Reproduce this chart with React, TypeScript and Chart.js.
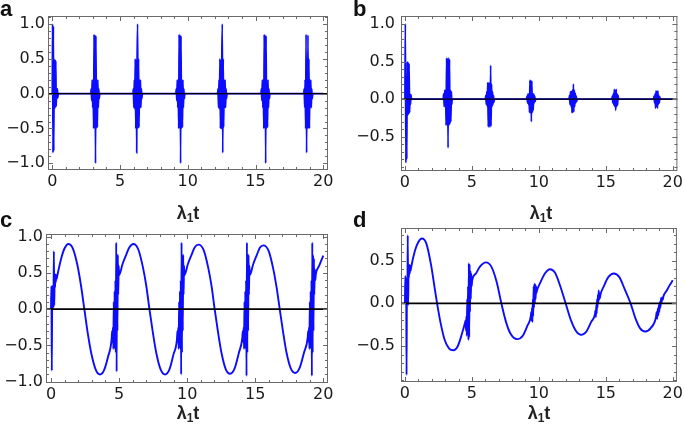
import React, { useEffect, useRef } from "react";
import { Chart, registerables } from "chart.js";

Chart.register(...registerables);

type P = [number, number];

// ---------- shared tick labels ----------
const xTickValues = [0, 5, 10, 15, 20];
const aYTicks = [-1, -0.5, 0, 0.5, 1];
const bYTicks = [-0.5, 0, 0.5, 1];
const cYTicks = [-1, -0.5, 0, 0.5, 1];
const dYTicks = [-0.5, 0, 0.5];

// ---------- panel a: revival bursts ----------
const aB0: P[] = [[0,0],[0.02,1.0],[0.05,-0.85],[0.08,0.97],[0.11,-0.82],[0.14,0.5],[0.17,-0.22],[0.2,0.49],[0.23,-0.2],[0.26,0.47],[0.29,-0.18],[0.32,0.07],[0.35,-0.07],[0.38,0.07],[0.41,-0.06],[0.44,0]];
const aB1: P[] = [[2.84,0],[2.87,0.07],[2.91,-0.1],[2.94,0.2],[2.98,-0.2],[3.01,0.2],[3.05,-0.5],[3.08,0.85],[3.12,-0.5],[3.15,0.84],[3.19,-1.0],[3.22,0.83],[3.26,-0.5],[3.29,0.2],[3.33,-0.48],[3.36,0.2],[3.4,-0.2],[3.43,0.07],[3.47,-0.07],[3.5,0]];
const aB2: P[] = [[5.95,0],[5.98,0.07],[6.02,-0.2],[6.05,0.2],[6.09,-0.22],[6.12,0.5],[6.16,-0.5],[6.19,0.48],[6.23,-0.85],[6.26,0.5],[6.3,1.0],[6.33,-0.5],[6.37,0.5],[6.4,-0.48],[6.44,0.2],[6.47,-0.2],[6.51,0.2],[6.54,-0.2],[6.58,0.07],[6.61,-0.07],[6.65,0]];
const aB3: P[] = [[9.12,0],[9.15,0.07],[9.19,-0.1],[9.22,0.2],[9.26,-0.2],[9.29,0.2],[9.33,-0.5],[9.36,0.85],[9.4,-0.5],[9.43,0.84],[9.47,-1.0],[9.5,0.83],[9.54,-0.5],[9.57,0.2],[9.61,-0.48],[9.64,0.2],[9.68,-0.2],[9.71,0.07],[9.75,-0.07],[9.78,0]];
const aB4: P[] = [[12.2,0],[12.23,0.07],[12.27,-0.2],[12.3,0.2],[12.34,-0.22],[12.37,0.5],[12.41,-0.5],[12.44,0.48],[12.48,-0.5],[12.51,0.5],[12.55,1.0],[12.58,-0.85],[12.62,0.5],[12.65,-0.48],[12.69,0.2],[12.72,-0.2],[12.76,0.2],[12.79,-0.2],[12.83,0.07],[12.86,-0.07],[12.9,0]];
const aB5: P[] = [[15.4,0],[15.43,0.07],[15.47,-0.1],[15.5,0.2],[15.54,-0.2],[15.57,0.2],[15.61,-0.5],[15.64,0.85],[15.68,-0.5],[15.71,0.84],[15.75,-1.0],[15.78,0.83],[15.82,-0.5],[15.85,0.2],[15.89,-0.48],[15.92,0.2],[15.96,-0.2],[15.99,0.07],[16.03,-0.07],[16.06,0]];
const aB6: P[] = [[18.56,0],[18.59,0.07],[18.63,-0.2],[18.66,0.2],[18.7,-0.5],[18.73,0.85],[18.77,-0.85],[18.8,0.5],[18.84,-0.5],[18.87,0.84],[18.91,-0.5],[18.94,0.5],[18.98,-0.5],[19.01,0.2],[19.05,-0.2],[19.08,0.2],[19.12,-0.2],[19.15,0.07],[19.19,-0.07],[19.22,0]];
const aEnd: P[] = [[20,0]];

// ---------- panel b: decaying bursts ----------
const bB0: P[] = [[0,0],[0.03,1.0],[0.07,-0.85],[0.1,0.3],[0.14,-0.8],[0.17,0.5],[0.21,-0.22],[0.24,0.49],[0.28,-0.2],[0.31,0.47],[0.35,-0.18],[0.38,0.07],[0.42,-0.07],[0.45,0.06],[0.49,0]];
const bB1: P[] = [[2.86,0],[2.89,0.07],[2.93,-0.1],[2.97,0.12],[3.0,-0.1],[3.04,0.12],[3.07,-0.35],[3.11,0.55],[3.15,-0.35],[3.18,0.54],[3.22,-0.65],[3.25,0.55],[3.29,-0.35],[3.33,0.53],[3.36,-0.33],[3.4,0.12],[3.43,-0.3],[3.47,0.1],[3.5,-0.07],[3.53,0]];
const bB2: P[] = [[6.0,0],[6.04,0.05],[6.07,-0.07],[6.11,0.1],[6.15,-0.1],[6.18,0.22],[6.22,-0.37],[6.25,0.22],[6.29,-0.37],[6.33,0.22],[6.36,-0.37],[6.4,0.45],[6.43,-0.36],[6.47,0.2],[6.51,-0.1],[6.54,0.1],[6.58,-0.07],[6.61,0.05],[6.65,-0.04],[6.68,0]];
const bB3: P[] = [[9.08,0],[9.12,0.04],[9.15,-0.05],[9.19,0.07],[9.22,-0.07],[9.26,0.07],[9.3,-0.18],[9.33,0.25],[9.37,-0.18],[9.4,0.25],[9.44,-0.3],[9.48,0.24],[9.51,-0.18],[9.55,0.07],[9.58,-0.15],[9.62,0.07],[9.66,-0.05],[9.69,0.04],[9.73,-0.03],[9.76,0]];
const bB4: P[] = [[12.25,0],[12.29,0.05],[12.32,-0.07],[12.36,0.1],[12.4,-0.1],[12.43,0.1],[12.47,-0.18],[12.5,0.12],[12.54,-0.18],[12.58,0.2],[12.61,-0.17],[12.65,0.12],[12.68,-0.1],[12.72,0.08],[12.76,-0.05],[12.79,0.04],[12.83,-0.03],[12.86,0]];
const bB5: P[] = [[15.45,0],[15.49,0.04],[15.52,-0.05],[15.56,0.07],[15.6,-0.08],[15.63,0.13],[15.67,-0.1],[15.7,0.12],[15.74,-0.15],[15.78,0.13],[15.81,-0.1],[15.85,0.07],[15.88,-0.08],[15.92,0.05],[15.95,0]];
const bB6: P[] = [[18.57,0],[18.6,0.04],[18.64,-0.05],[18.68,0.07],[18.71,-0.12],[18.75,0.11],[18.78,-0.1],[18.82,0.1],[18.86,-0.12],[18.89,0.11],[18.93,-0.07],[18.96,0.05],[19.0,-0.05],[19.03,0.03],[19.06,0]];
const bEnd: P[] = [[20,0]];

// ---------- panel c: oscillation with bursts ----------
const cB0: P[] = [[0,0],[0.03,0.32],[0.06,-0.85],[0.09,0.32],[0.12,0.0],[0.15,0.3],[0.18,0.02],[0.21,0.8],[0.24,0.05],[0.27,0.45],[0.3,0.3],[0.33,0.48],[0.36,0.38],[0.39,0.47],[0.42,0.42],[0.45,0.45]];
const cS0: P[] = [[0.45,0.45],[0.75,0.7],[1.0,0.84],[1.27,0.9],[1.6,0.84],[1.95,0.6],[2.2,0.33],[2.45,0],[2.7,-0.33],[2.95,-0.6],[3.3,-0.84],[3.6,-0.9],[3.9,-0.84],[4.2,-0.65],[4.45,-0.42]];
const cB1: P[] = [[4.45,-0.42],[4.49,-0.3],[4.52,-0.45],[4.55,-0.25],[4.58,-0.55],[4.61,0.1],[4.64,-0.5],[4.67,0.25],[4.7,-0.55],[4.73,0.4],[4.76,-0.6],[4.79,0.92],[4.82,-0.86],[4.85,0.75],[4.88,-0.3],[4.91,0.75],[4.94,0.2],[4.97,0.6],[5.0,0.47]];
const cS1: P[] = [[5.0,0.47],[5.25,0.62],[5.5,0.74],[5.75,0.85],[6.05,0.9],[6.4,0.83],[6.75,0.58],[7.0,0.32],[7.23,0],[7.48,-0.32],[7.73,-0.6],[8.05,-0.83],[8.38,-0.9],[8.7,-0.83],[9.0,-0.62],[9.25,-0.42]];
const cB2: P[] = [[9.25,-0.42],[9.29,-0.3],[9.32,-0.45],[9.35,-0.25],[9.38,-0.55],[9.41,0.1],[9.44,-0.5],[9.47,0.25],[9.5,-0.55],[9.53,0.4],[9.56,-0.9],[9.59,0.92],[9.62,-0.6],[9.65,0.75],[9.68,-0.3],[9.71,0.75],[9.74,0.2],[9.77,0.6],[9.8,0.47]];
const cS2: P[] = [[9.8,0.47],[10.05,0.62],[10.3,0.74],[10.55,0.85],[10.83,0.89],[11.2,0.82],[11.55,0.57],[11.8,0.31],[12.02,0],[12.27,-0.32],[12.52,-0.6],[12.84,-0.83],[13.16,-0.89],[13.48,-0.82],[13.8,-0.6],[14.05,-0.4]];
const cB3: P[] = [[14.05,-0.4],[14.09,-0.3],[14.12,-0.45],[14.15,-0.25],[14.18,-0.55],[14.21,0.1],[14.24,-0.5],[14.27,0.25],[14.3,-0.55],[14.33,0.4],[14.36,-0.92],[14.39,0.92],[14.42,-0.6],[14.45,0.75],[14.48,-0.3],[14.51,0.75],[14.54,0.2],[14.57,0.6],[14.6,0.47]];
const cS3: P[] = [[14.6,0.47],[14.85,0.62],[15.1,0.74],[15.35,0.85],[15.6,0.88],[15.97,0.81],[16.32,0.56],[16.57,0.3],[16.8,0],[17.05,-0.32],[17.3,-0.6],[17.62,-0.82],[17.94,-0.88],[18.26,-0.81],[18.58,-0.6],[18.85,-0.4]];
const cB4: P[] = [[18.85,-0.4],[18.89,-0.3],[18.92,-0.45],[18.95,-0.25],[18.98,-0.55],[19.01,0.1],[19.04,-0.5],[19.07,0.25],[19.1,-0.55],[19.13,0.4],[19.16,-0.92],[19.19,0.92],[19.22,-0.6],[19.25,0.75],[19.28,-0.3],[19.31,0.7],[19.34,0.2],[19.37,0.55],[19.41,0.4],[19.45,0.48]];
const cS4: P[] = [[19.45,0.48],[19.7,0.6],[20.0,0.74]];

// ---------- panel d: damped oscillation with bursts ----------
const dB0: P[] = [[0,0],[0.03,0.32],[0.06,0.0],[0.09,0.3],[0.12,-0.84],[0.15,0.3],[0.18,0.0],[0.21,0.8],[0.24,-0.02],[0.27,0.42],[0.3,0.3],[0.33,0.45],[0.36,0.35],[0.39,0.44],[0.42,0.38],[0.46,0.42]];
const dS0: P[] = [[0.46,0.42],[0.75,0.62],[1.0,0.72],[1.27,0.76],[1.6,0.7],[1.95,0.45],[2.2,0.2],[2.4,0],[2.65,-0.22],[2.95,-0.42],[3.3,-0.53],[3.62,-0.55],[3.95,-0.5],[4.25,-0.36],[4.5,-0.22]];
const dB1: P[] = [[4.5,-0.25],[4.53,-0.2],[4.56,-0.32],[4.59,-0.15],[4.62,-0.38],[4.65,0.05],[4.68,-0.3],[4.71,0.2],[4.74,-0.43],[4.77,0.47],[4.8,-0.4],[4.83,0.46],[4.86,-0.1],[4.89,0.38],[4.92,0.05],[4.95,0.35],[4.98,0.2],[5.02,0.27]];
const dS1: P[] = [[5.02,0.27],[5.3,0.35],[5.6,0.43],[6.05,0.48],[6.45,0.43],[6.85,0.25],[7.2,0],[7.55,-0.22],[7.9,-0.36],[8.38,-0.42],[8.8,-0.38],[9.15,-0.26],[9.4,-0.15]];
const dB2: P[] = [[9.4,-0.15],[9.43,-0.1],[9.46,-0.2],[9.49,-0.05],[9.52,-0.22],[9.55,0.05],[9.58,-0.15],[9.61,0.2],[9.64,-0.05],[9.67,0.23],[9.7,0.0],[9.73,0.22],[9.76,0.05],[9.79,0.2],[9.82,0.12],[9.86,0.15]];
const dS2: P[] = [[9.86,0.15],[10.1,0.24],[10.45,0.35],[10.83,0.4],[11.2,0.36],[11.6,0.2],[12.0,0],[12.4,-0.2],[12.8,-0.33],[13.16,-0.37],[13.55,-0.33],[13.9,-0.22],[14.2,-0.12]];
const dB3: P[] = [[14.2,-0.12],[14.23,-0.08],[14.26,-0.16],[14.29,-0.02],[14.32,-0.12],[14.35,0.05],[14.38,-0.05],[14.41,0.1],[14.44,0.0],[14.47,0.15],[14.5,0.04],[14.53,0.12],[14.56,0.06],[14.6,0.1]];
const dS3: P[] = [[14.6,0.1],[14.85,0.2],[15.2,0.31],[15.6,0.35],[16.0,0.31],[16.4,0.17],[16.85,0],[17.2,-0.17],[17.55,-0.29],[17.94,-0.33],[18.35,-0.29],[18.75,-0.16]];
const dB4: P[] = [[18.75,-0.16],[18.8,-0.1],[18.84,-0.18],[18.88,-0.06],[18.92,-0.14],[18.96,-0.02],[19.0,-0.1],[19.04,0.02],[19.08,-0.05],[19.12,0.06],[19.16,0.0],[19.2,0.07],[19.25,0.04],[19.3,0.08]];
const dS4: P[] = [[19.3,0.08],[19.55,0.15],[19.8,0.22],[20.0,0.27]];

const aSeries: P[] = [...aB0, ...aB1, ...aB2, ...aB3, ...aB4, ...aB5, ...aB6, ...aEnd];
const bSeries: P[] = [...bB0, ...bB1, ...bB2, ...bB3, ...bB4, ...bB5, ...bB6, ...bEnd];
const cSeries: P[] = [...cB0, ...cS0, ...cB1, ...cS1, ...cB2, ...cS2, ...cB3, ...cS3, ...cB4, ...cS4];
const dSeries: P[] = [...dB0, ...dS0, ...dB1, ...dS1, ...dB2, ...dS2, ...dB3, ...dS3, ...dB4, ...dS4];

// ---------- layout / style ----------
const BLUE = "rgb(12,12,255)";
const TICK_FONT = '"DejaVu Sans", "Liberation Sans", sans-serif';
const TEXT_FONT = '"Liberation Sans", Arial, sans-serif';
const LABEL_COLOR = "#1a1a1a";

interface PanelCfg {
  series: P[];
  yTicks: number[];
  left: number; top: number; w: number; h: number;
  yW: number; padTop: number; padRight: number; xH: number;
  xMin: number; xMax: number; yMin: number; yMax: number;
  yPad: number; lw: number; zeroW: number;
}

const panels: PanelCfg[] = [
  { series: aSeries, yTicks: aYTicks, left: 0, top: 0, w: 340, h: 210, yW: 48, padTop: 16, padRight: 12, xH: 40,
    xMin: -0.317, xMax: 20.35, yMin: -1.096, yMax: 1.115, yPad: 3, lw: 1.7, zeroW: 1.2 },
  { series: bSeries, yTicks: bYTicks, left: 340, top: 0, w: 345, h: 210, yW: 61, padTop: 16, padRight: 3, xH: 39,
    xMin: -0.294, xMax: 20.345, yMin: -0.957, yMax: 1.106, yPad: 6, lw: 1.7, zeroW: 1.2 },
  { series: cSeries, yTicks: cYTicks, left: 0, top: 210, w: 340, h: 215, yW: 46, padTop: 24, padRight: 12, xH: 42,
    xMin: -0.367, xMax: 20.345, yMin: -1.018, yMax: 1.037, yPad: 3, lw: 1.9, zeroW: 1.7 },
  { series: dSeries, yTicks: dYTicks, left: 340, top: 210, w: 345, h: 215, yW: 61, padTop: 18, padRight: 4, xH: 43,
    xMin: -0.295, xMax: 20.31, yMin: -0.922, yMax: 0.883, yPad: 6, lw: 1.9, zeroW: 1.7 },
];

const letters = [
  { text: "a", left: 0, top: -2 },
  { text: "b", left: 353, top: -2 },
  { text: "c", left: 0, top: 209 },
  { text: "d", left: 353, top: 209 },
];

const titles = [
  { cx: 188, top: 203 },
  { cx: 541, top: 203 },
  { cx: 188, top: 403 },
  { cx: 539, top: 403 },
];

function dedupe(pts: P[]): { x: number; y: number }[] {
  const out: { x: number; y: number }[] = [];
  for (const [x, y] of pts) {
    if (out.length && x <= out[out.length - 1].x) continue;
    out.push({ x, y });
  }
  return out;
}

function makeFramePlugin(zeroW: number) {
  return {
    id: "mmaFrame",
    afterDatasetsDraw(chart: any) {
      const { ctx, chartArea, scales } = chart;
      const { left, right, top, bottom } = chartArea;
      const xs = scales.x;
      const ys = scales.y;
      ctx.save();
      const y0 = ys.getPixelForValue(0);
      ctx.strokeStyle = "#000";
      ctx.lineWidth = zeroW;
      ctx.beginPath();
      ctx.moveTo(left, y0);
      ctx.lineTo(right, y0);
      ctx.stroke();
      ctx.strokeStyle = "#6a6a6a";
      ctx.lineWidth = 1;
      ctx.strokeRect(left + 0.5, top + 0.5, right - left - 1, bottom - top - 1);
      ctx.beginPath();
      for (let v = Math.ceil(xs.min); v <= xs.max; v++) {
        const px = Math.round(xs.getPixelForValue(v)) + 0.5;
        const len = v % 5 === 0 ? 5 : 3;
        ctx.moveTo(px, bottom); ctx.lineTo(px, bottom - len);
        ctx.moveTo(px, top); ctx.lineTo(px, top + len);
      }
      for (let k = Math.ceil(ys.min * 10); k <= Math.floor(ys.max * 10); k++) {
        const py = Math.round(ys.getPixelForValue(k / 10)) + 0.5;
        const len = k % 5 === 0 ? 5 : 3;
        ctx.moveTo(left, py); ctx.lineTo(left + len, py);
        ctx.moveTo(right, py); ctx.lineTo(right - len, py);
      }
      ctx.stroke();
      ctx.restore();
    },
  };
}

function fmtY(v: number): string {
  return v.toFixed(1).replace("-", "\u2212");
}

function Panel({ cfg }: { cfg: PanelCfg }) {
  const ref = useRef<HTMLCanvasElement>(null);
  useEffect(() => {
    const chart = new Chart(ref.current as HTMLCanvasElement, {
      type: "line",
      data: {
        datasets: [
          {
            data: dedupe(cfg.series),
            borderColor: BLUE,
            borderWidth: cfg.lw,
            pointRadius: 0,
            fill: false,
            cubicInterpolationMode: "monotone",
          } as any,
        ],
      },
      options: {
        responsive: false,
        animation: false,
        devicePixelRatio: 1,
        events: [],
        layout: { padding: { top: cfg.padTop, right: cfg.padRight, left: 0, bottom: 0 }, autoPadding: false } as any,
        plugins: { legend: { display: false }, tooltip: { enabled: false } },
        scales: {
          x: {
            type: "linear",
            min: cfg.xMin,
            max: cfg.xMax,
            grid: { display: false, drawTicks: false },
            border: { display: false },
            ticks: {
              font: { family: TICK_FONT, size: 16 },
              color: LABEL_COLOR,
              padding: 2,
              maxRotation: 0,
              autoSkip: false,
              callback: (v: any) => String(v),
            },
            afterBuildTicks: (s: any) => {
              s.ticks = xTickValues.map((v) => ({ value: v }));
            },
            afterFit: (s: any) => {
              s.height = cfg.xH;
            },
          },
          y: {
            type: "linear",
            min: cfg.yMin,
            max: cfg.yMax,
            grid: { display: false, drawTicks: false },
            border: { display: false },
            ticks: {
              font: { family: TICK_FONT, size: 16 },
              color: LABEL_COLOR,
              padding: cfg.yPad,
              autoSkip: false,
              callback: (v: any) => fmtY(Number(v)),
            },
            afterBuildTicks: (s: any) => {
              s.ticks = cfg.yTicks.map((v) => ({ value: v }));
            },
            afterFit: (s: any) => {
              s.width = cfg.yW;
            },
          },
        },
      },
      plugins: [makeFramePlugin(cfg.zeroW)],
    });
    return () => chart.destroy();
  }, [cfg]);
  return (
    <canvas
      ref={ref}
      width={cfg.w}
      height={cfg.h}
      style={{ position: "absolute", left: cfg.left, top: cfg.top, width: cfg.w, height: cfg.h }}
    />
  );
}

export default function App() {
  return (
    <div
      style={{
        position: "fixed",
        left: 0,
        top: 0,
        width: 685,
        height: 425,
        overflow: "hidden",
        background: "#fff",
      }}
    >
      {panels.map((p, i) => (
        <Panel key={i} cfg={p} />
      ))}
      {letters.map((l) => (
        <div
          key={l.text}
          style={{
            position: "absolute",
            left: l.left,
            top: l.top,
            font: `bold 22px ${TEXT_FONT}`,
            lineHeight: "22px",
            color: "#111",
          }}
        >
          {l.text}
        </div>
      ))}
      {titles.map((t, i) => (
        <div
          key={i}
          style={{
            position: "absolute",
            left: t.cx - 40,
            width: 80,
            top: t.top,
            textAlign: "center",
            font: `bold 18px ${TEXT_FONT}`,
            lineHeight: "20px",
            color: "#222",
          }}
        >
          λ<sub style={{ fontSize: "12px", lineHeight: 0, verticalAlign: "-3px" }}>1</sub>t
        </div>
      ))}
    </div>
  );
}
